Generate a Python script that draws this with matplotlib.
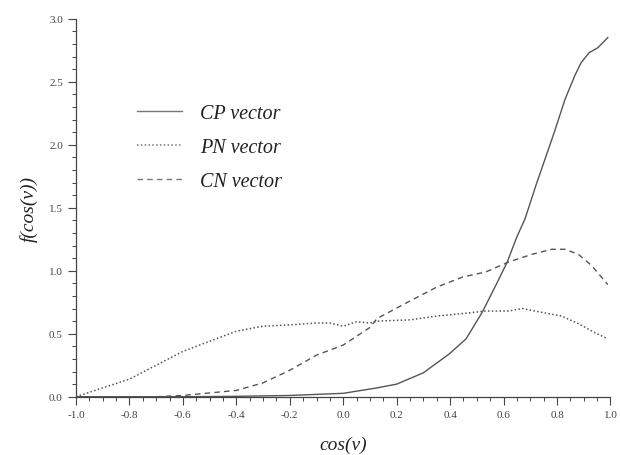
import matplotlib.pyplot as plt
from matplotlib.ticker import MultipleLocator, FormatStrFormatter

# CP vector (solid)
cp_x = [-1.0, -0.6, -0.4, -0.2, 0.0, 0.126, 0.2, 0.3, 0.397, 0.46, 0.52, 0.57,
        0.614, 0.65, 0.68, 0.72, 0.79, 0.83, 0.867, 0.89, 0.92, 0.953, 0.99]
cp_y = [0.0, 0.0, 0.003, 0.01, 0.027, 0.07, 0.10, 0.19, 0.34, 0.46, 0.67, 0.88,
        1.07, 1.27, 1.41, 1.67, 2.10, 2.36, 2.55, 2.65, 2.73, 2.77, 2.85]

# PN vector (dotted)
pn_x = [-1.0, -0.9, -0.8, -0.7, -0.6, -0.5, -0.4, -0.3, -0.2, -0.1, -0.05, 0.0,
        0.05, 0.1, 0.126, 0.25, 0.35, 0.447, 0.533, 0.62, 0.67, 0.73, 0.817,
        0.88, 0.94, 0.99]
pn_y = [0.0, 0.07, 0.14, 0.25, 0.36, 0.44, 0.52, 0.56, 0.57, 0.585, 0.585, 0.56,
        0.595, 0.585, 0.60, 0.61, 0.64, 0.66, 0.68, 0.68, 0.70, 0.675, 0.64,
        0.58, 0.51, 0.46]

# CN vector (dashed)
cn_x = [-0.7, -0.6, -0.4, -0.3, -0.2, -0.1, 0.0, 0.1, 0.126, 0.25, 0.35, 0.447,
        0.533, 0.62, 0.706, 0.78, 0.83, 0.88, 0.93, 0.99]
cn_y = [0.0, 0.01, 0.05, 0.11, 0.21, 0.33, 0.41, 0.55, 0.62, 0.76, 0.87, 0.95,
        0.99, 1.07, 1.13, 1.17, 1.17, 1.13, 1.04, 0.89]

serif = ['Liberation Serif', 'DejaVu Serif']
line_color = '#555555'

fig = plt.figure(figsize=(6.2, 4.56), dpi=100)
ax = fig.add_axes([0.1226, 0.1278, 0.862, 0.829])

ax.plot(cp_x, cp_y, '-', color=line_color, lw=1.0, label='CP vector')
ax.plot(pn_x, pn_y, color=line_color, lw=1.1, dashes=(1, 1.5), label='PN vector')
ax.plot(cn_x, cn_y, color=line_color, lw=1.0, dashes=(4, 3), label='CN vector')

ax.set_xlim(-1.0, 1.0)
ax.set_ylim(0.0, 3.0)
ax.xaxis.set_major_locator(MultipleLocator(0.2))
ax.xaxis.set_minor_locator(MultipleLocator(0.05))
ax.yaxis.set_major_locator(MultipleLocator(0.5))
ax.yaxis.set_minor_locator(MultipleLocator(0.1))
ax.xaxis.set_major_formatter(FormatStrFormatter('%.1f'))
ax.yaxis.set_major_formatter(FormatStrFormatter('%.1f'))

for side in ['top', 'right']:
    ax.spines[side].set_visible(False)
for side in ['left', 'bottom']:
    ax.spines[side].set_color('#444444')
    ax.spines[side].set_linewidth(0.9)

ax.tick_params(which='major', direction='out', length=6, width=0.8, colors='#444444',
               labelsize=8)
ax.tick_params(which='minor', direction='out', length=3, width=0.7, colors='#444444')
for lab in ax.get_xticklabels() + ax.get_yticklabels():
    lab.set_family(serif)

ax.set_xlabel('cos(v)', family=serif, style='italic', fontsize=14, color='#222222',
              labelpad=12)
ax.set_ylabel('f(cos(v))', family=serif, style='italic', fontsize=14, color='#222222',
              labelpad=8)

leg = ax.legend(loc='upper left', bbox_to_anchor=(0.081, 0.822), frameon=False,
                handlelength=2.2, labelspacing=0.73, handletextpad=0.9,
                prop={'family': serif, 'style': 'italic', 'size': 14.5})
for t in leg.get_texts():
    t.set_color('#222222')
for h in leg.get_lines():
    h.set_color('#777777')

fig.savefig('out.png', dpi=100)
